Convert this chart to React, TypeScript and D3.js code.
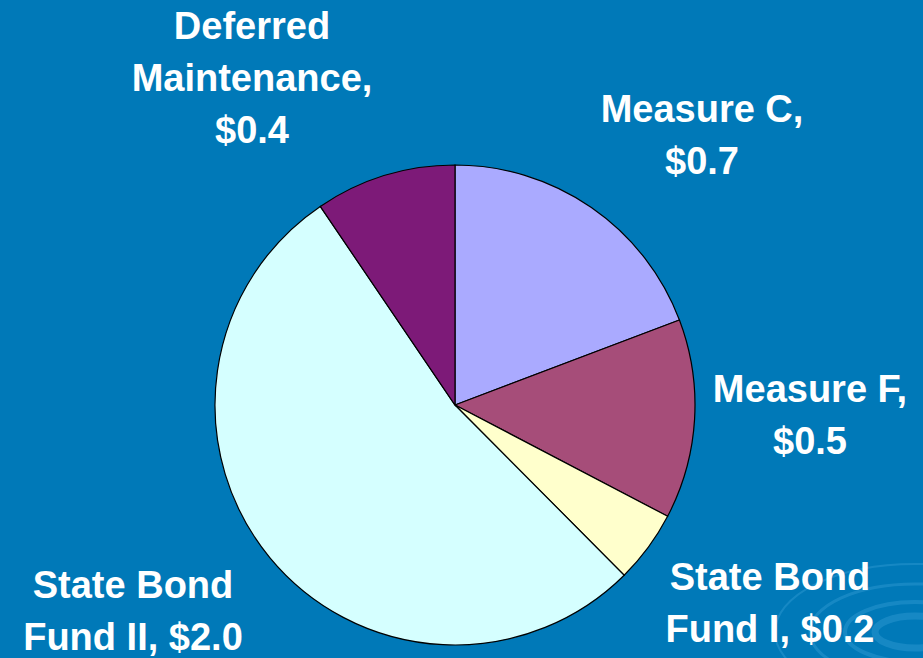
import React from "react";
import * as d3 from "d3";

const categories = ["Measure C", "Measure F", "State Bond Fund I", "State Bond Fund II", "Deferred Maintenance"];
const values = [0.73, 0.51, 0.185, 2.01, 0.36];
const valueLabels = ["$0.7", "$0.5", "$0.2", "$2.0", "$0.4"];
const colors = ["#aaaaff", "#a64d79", "#ffffcc", "#d5ffff", "#7d1a78"];
const labelLines = [
  ["Measure C,", "$0.7"],
  ["Measure F,", "$0.5"],
  ["State Bond", "Fund I, $0.2"],
  ["State Bond", "Fund II, $2.0"],
  ["Deferred", "Maintenance,", "$0.4"],
];
const labelPos = [
  [702, 122],
  [810, 402],
  [770, 590],
  [133, 598],
  [252, 39],
];

export default function App() {
  const W = 923, H = 658;
  const cx = 455, cy = 405, r = 240;
  const pie = d3.pie<number>().sort(null).value((d) => d)(values);
  const arc = d3.arc<d3.PieArcDatum<number>>().innerRadius(0).outerRadius(r);
  return (
    <svg width={W} height={H} style={{ position: "absolute", left: 0, top: 0 }}>
      <rect width={W} height={H} fill="#0079b8" />
      <g opacity={0.25} fill="none" stroke="#5ab8ea">
        <ellipse cx={915} cy={632} rx={40} ry={16} strokeWidth={7} />
        <ellipse cx={915} cy={632} rx={70} ry={30} strokeWidth={4} />
        <ellipse cx={915} cy={632} rx={105} ry={48} strokeWidth={3} />
        <ellipse cx={915} cy={632} rx={140} ry={68} strokeWidth={2} />
      </g>
      <g transform={`translate(${cx},${cy})`}>
        {pie.map((p, i) => (
          <path key={categories[i]} d={arc(p) || ""} fill={colors[i]} stroke="#000" strokeWidth={1.2} />
        ))}
      </g>
      {labelLines.map((lines, i) => (
        <text
          key={i}
          x={labelPos[i][0]}
          y={labelPos[i][1]}
          fill="#fff"
          fontFamily="Liberation Sans, Arial, sans-serif"
          fontWeight="bold"
          fontSize={38}
          textAnchor="middle"
        >
          {lines.map((l, j) => (
            <tspan key={j} x={labelPos[i][0]} dy={j === 0 ? 0 : 52}>
              {l}
            </tspan>
          ))}
        </text>
      ))}
    </svg>
  );
}
